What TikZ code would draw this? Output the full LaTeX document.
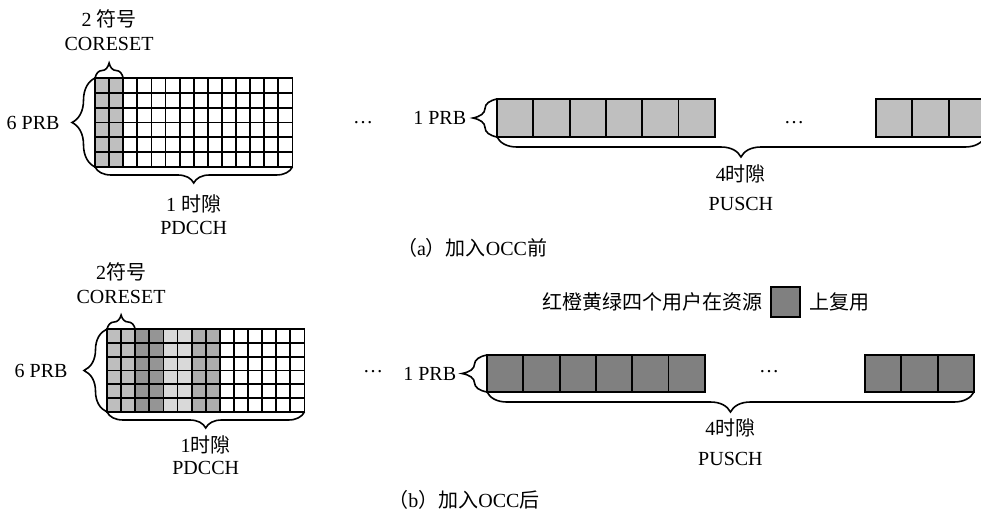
\documentclass[tikz,border=0pt]{standalone}
\usepackage{fontspec}
\setmainfont{Liberation Serif}
\newfontfamily\cjk{Noto Sans CJK SC}
\usetikzlibrary{positioning,decorations.pathreplacing}
\definecolor{lg}{HTML}{BFBFBF}
\definecolor{dg}{HTML}{808080}
\definecolor{u1}{HTML}{BEBEBE}
\definecolor{u2}{HTML}{959595}
\definecolor{u3}{HTML}{D9D9D9}
\definecolor{u4}{HTML}{ADADAD}

\begin{document}
\begin{tikzpicture}[x=0.5pt, y=-0.5pt, thick,
cell/.style={draw, line width=0.9pt, inner sep=0pt, outer sep=0pt, anchor=north west, minimum width=7.05pt, minimum height=#1},
prbbox/.style={draw, line width=0.9pt, inner sep=0pt, outer sep=0pt, anchor=north west, minimum width=18.15pt, minimum height=#1},
brc/.style={decorate, decoration={brace, amplitude=#1}},
lbl/.style={align=center}]
\useasboundingbox (0,0) rectangle (981,511);
\clip (0,0) rectangle (981,511);

% (a) before OCC
\foreach \c/\f in {1/lg,2/lg,3/white,4/white,5/white,6/white,7/white,8/white,9/white,10/white,11/white,12/white,13/white,14/white}
  \foreach \r in {1,...,6}
    \node[cell=7.415pt, fill=\f] (a\c-\r) at ({95+14.1*(\c-1)},{78+14.83*(\r-1)}) {};
\draw[brc=7.5pt] (a1-1.north west) -- (a2-1.north east);
\draw[brc=11.5pt] (a1-6.south west) -- (a1-1.north west);
\draw[brc=8pt] (a14-6.south east) -- (a1-6.south west);
\node[lbl, above=10pt of a1-1.north east] (a-cs) {2 {\cjk 符号}\\CORESET};
\node[left=14pt of a1-3.south west] (a-prb) {6 PRB};
\node[lbl, below=10pt of a7-6.south east] (a-slot) {1 {\cjk 时隙}\\[-0.5pt]PDCCH};
\node (a-dot1) at (363,123) {…};

\foreach \i in {1,...,6}
  \node[prbbox=19pt, fill=lg] (pa\i) at ({497+36.3*(\i-1)},99) {};
\foreach \i in {7,8,9}
  \node[prbbox=19pt, fill=lg] (pa\i) at ({876+36.3*(\i-7)},99) {};
\draw[brc=12pt] (pa1.south west) -- (pa1.north west);
\node[left=11.7pt of pa1.west] (a-prb1) {1 PRB};
\node (a-dot2) at (794,123) {…};
\draw[brc=10pt] (pa9.south east) -- node[lbl, midway, below=10pt] (a-slot4) {4{\cjk 时隙}\\[2.5pt]PUSCH} (pa1.south west);
\node (cap-a) at (472,248) {{\cjk （}a{\cjk ）加入}OCC{\cjk 前}};

% (b) after OCC
\foreach \c/\f in {1/u1,2/u1,3/u2,4/u2,5/u3,6/u3,7/u4,8/u4,9/white,10/white,11/white,12/white,13/white,14/white}
  \foreach \r in {1,...,6}
    \node[cell=6.917pt, fill=\f] (b\c-\r) at ({107+14.1*(\c-1)},{329+13.83*(\r-1)}) {};
\draw[brc=7pt] (b1-1.north west) -- (b2-1.north east);
\draw[brc=11.5pt] (b1-6.south west) -- (b1-1.north west);
\draw[brc=8pt] (b14-6.south east) -- (b1-6.south west);
\node[lbl, above=9pt of b1-1.north east] (b-cs) {2{\cjk 符号}\\CORESET};
\node[left=16pt of b1-3.south west] (b-prb) {6 PRB};
\node[lbl, below=8pt of b7-6.south east] (b-slot) {1{\cjk 时隙}\\[-1pt]PDCCH};
\node (b-dot1) at (373,372) {…};

\foreach \i in {1,...,6}
  \node[prbbox=18.5pt, fill=dg] (pb\i) at ({487+36.3*(\i-1)},355) {};
\foreach \i in {7,8,9}
  \node[prbbox=18.5pt, fill=dg] (pb\i) at ({865+36.3*(\i-7)},355) {};
\draw[brc=12.5pt] (pb1.south west) -- (pb1.north west);
\node[left=11.7pt of pb1.west] (b-prb1) {1 PRB};
\node (b-dot2) at (769,372) {…};
\draw[brc=10pt] (pb9.south east) -- node[lbl, midway, below=9.7pt] (b-slot4) {4{\cjk 时隙}\\[3pt]PUSCH} (pb1.south west);

\node[draw, fill=dg, inner sep=0pt, minimum width=14.5pt, minimum height=15pt] (key) at (785.5,302) {};
\node[left=0pt of key] (b-users) {\cjk 红橙黄绿四个用户在资源};
\node[right=0.5pt of key] (b-mux) {\cjk 上复用};
\node (cap-b) at (464,500) {{\cjk （}b{\cjk ）加入}OCC{\cjk 后}};
\end{tikzpicture}
\end{document}
